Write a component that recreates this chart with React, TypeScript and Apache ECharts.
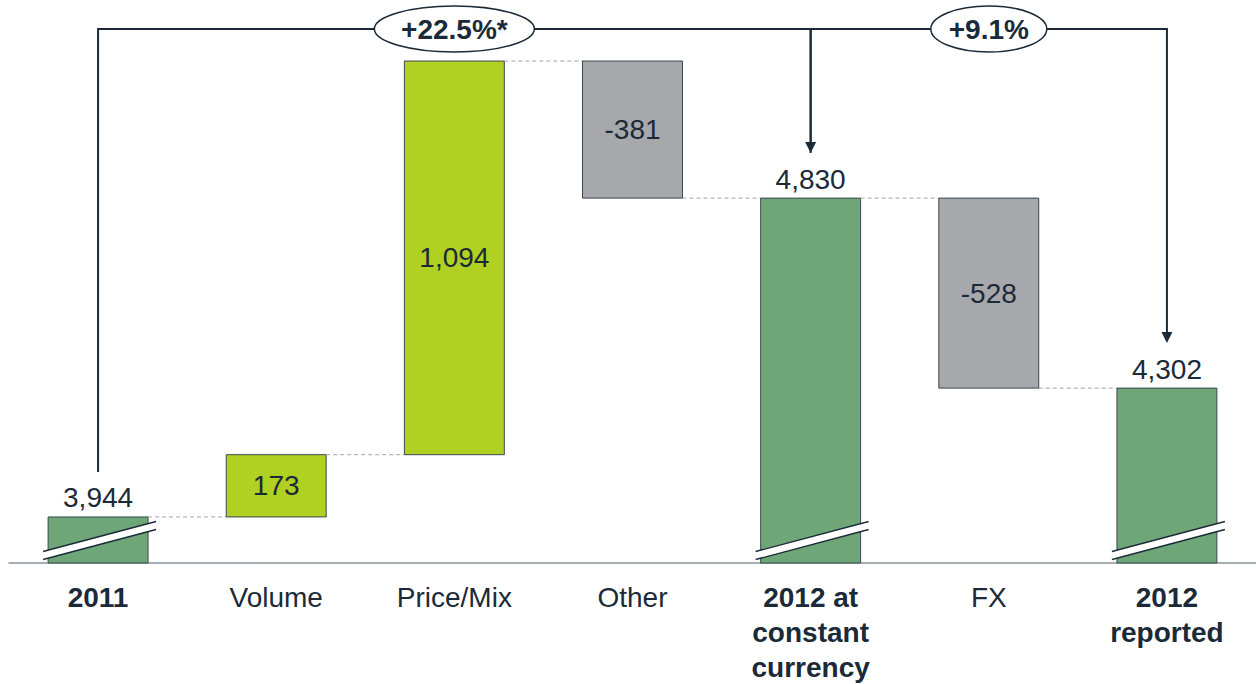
import React, { useEffect, useRef } from "react";
import * as echarts from "echarts";

const categories = ["2011", "Volume", "Price/Mix", "Other", "2012 at\nconstant\ncurrency", "FX", "2012\nreported"];
const values = [3944, 173, 1094, -381, 4830, -528, 4302];
const isTotal = [true, false, false, false, true, false, true];
const growthLabels = ["+22.5%*", "+9.1%"];
const growthFrom = [0, 4];
const growthTo = [4, 6];
const axisMin = 3816;
const axisMax = 5300;

const FONT = "'Liberation Sans', Arial, sans-serif";
const C = {
  total: "#6fa678",
  up: "#b0d022",
  down: "#a7a8ab",
  text: "#1b2a38",
  border: "#3a4750",
  connector: "#a3a3a3",
  axis: "#8a949a",
};

function fmt(v: number) {
  return v.toLocaleString("en-US");
}

export default function App() {
  const ref = useRef<HTMLDivElement>(null);
  useEffect(() => {
    if (!ref.current) return;
    const chart = echarts.init(ref.current, null, { renderer: "svg" });

    const barData: number[][] = [];
    let running = 0;
    values.forEach((v, i) => {
      let low: number, high: number;
      if (isTotal[i]) {
        low = axisMin;
        high = v;
        running = v;
      } else {
        const prev = running;
        running = prev + v;
        low = Math.min(prev, running);
        high = Math.max(prev, running);
      }
      barData.push([i, low, high, running, v, isTotal[i] ? 1 : 0]);
    });

    const bracketData = growthFrom.map((f, k) => [f, growthTo[k], values[f], values[growthTo[k]], k]);

    chart.setOption({
      animation: false,
      grid: { left: 9, top: 29, width: 1249, bottom: 121, containLabel: false },
      xAxis: {
        type: "category",
        data: categories,
        axisLine: { lineStyle: { color: C.axis, width: 1.5 } },
        axisTick: { show: false },
        axisLabel: {
          interval: 0,
          margin: 17,
          formatter: (val: string, idx: number) => {
            const tag = isTotal[idx] ? "b" : "n";
            return val.split("\n").map((s) => `{${tag}|${s}}`).join("\n");
          },
          rich: {
            b: { fontFamily: FONT, fontSize: 28, fontWeight: "bold", lineHeight: 35, color: C.text },
            n: { fontFamily: FONT, fontSize: 28, lineHeight: 35, color: C.text },
          },
        },
      },
      yAxis: { type: "value", min: axisMin, max: axisMax, show: false, splitLine: { show: false } },
      series: [
        {
          type: "custom",
          clip: false,
          data: barData,
          renderItem: (params: any, api: any) => {
            const i = api.value(0);
            const low = api.value(1);
            const high = api.value(2);
            const end = api.value(3);
            const v = api.value(4);
            const tot = api.value(5) === 1;
            const pLow = api.coord([i, low]);
            const pHigh = api.coord([i, high]);
            const bw = api.size([1, 0])[0] * 0.561;
            const x = pLow[0] - bw / 2;
            const fill = tot ? C.total : v >= 0 ? C.up : C.down;
            const children: any[] = [];
            children.push({
              type: "rect",
              shape: { x, y: pHigh[1], width: bw, height: pLow[1] - pHigh[1] },
              style: { fill, stroke: C.border, lineWidth: 1 },
            });
            if (i < values.length - 1) {
              const pe = api.coord([i, end]);
              const pn = api.coord([i + 1, end]);
              children.push({
                type: "line",
                shape: { x1: x + bw, y1: pe[1], x2: pn[0] - bw / 2, y2: pe[1] },
                style: { stroke: C.connector, lineWidth: 1, lineDash: [4, 3] },
              });
            }
            if (tot) {
              const by = pLow[1];
              const cx = pLow[0];
              const l = cx - 55;
              const r = cx + 58;
              children.push({
                type: "polygon",
                shape: { points: [[l, by - 11.5], [r, by - 41.5], [r, by - 33.5], [l, by - 3.5]] },
                style: { fill: "#ffffff", stroke: "none" },
              });
              children.push({
                type: "line",
                shape: { x1: l, y1: by - 11.5, x2: r, y2: by - 41.5 },
                style: { stroke: C.text, lineWidth: 1.3 },
              });
              children.push({
                type: "line",
                shape: { x1: l, y1: by - 3.5, x2: r, y2: by - 33.5 },
                style: { stroke: C.text, lineWidth: 1.3 },
              });
              children.push({
                type: "text",
                x: cx,
                y: pHigh[1] - 19,
                style: {
                  text: fmt(v),
                  fill: C.text,
                  fontSize: 28,
                  fontFamily: FONT,
                  align: "center",
                  verticalAlign: "middle",
                },
              });
            } else {
              children.push({
                type: "text",
                x: pLow[0],
                y: (pLow[1] + pHigh[1]) / 2,
                style: {
                  text: fmt(v),
                  fill: C.text,
                  fontSize: 28,
                  fontFamily: FONT,
                  align: "center",
                  verticalAlign: "middle",
                },
              });
            }
            return { type: "group", children };
          },
          z: 2,
        },
        {
          type: "custom",
          clip: false,
          data: bracketData,
          renderItem: (params: any, api: any) => {
            const f = api.value(0);
            const t = api.value(1);
            const vf = api.value(2);
            const vt = api.value(3);
            const k = api.value(4);
            const label = growthLabels[k];
            const lineY = api.coord([f, axisMax])[1];
            const pf = api.coord([f, vf]);
            const pt = api.coord([t, vt]);
            const yf = pf[1] - 45;
            const yt = pt[1] - 45;
            const rx = label.length * 11 + 3;
            const cx = (pf[0] + pt[0]) / 2;
            return {
              type: "group",
              children: [
                {
                  type: "polyline",
                  shape: { points: [[pf[0], yf], [pf[0], lineY], [pt[0], lineY], [pt[0], yt - 8]] },
                  style: { stroke: C.text, lineWidth: 2, fill: "none" },
                },
                {
                  type: "polygon",
                  shape: { points: [[pt[0] - 5.5, yt - 11], [pt[0] + 5.5, yt - 11], [pt[0], yt]] },
                  style: { fill: C.text, stroke: "none" },
                },
                {
                  type: "ellipse",
                  shape: { cx, cy: lineY, rx, ry: 23 },
                  style: { fill: "#ffffff", stroke: C.text, lineWidth: 1.5 },
                },
                {
                  type: "text",
                  x: cx,
                  y: lineY,
                  style: {
                    text: label,
                    fill: C.text,
                    fontSize: 28,
                    fontWeight: "bold",
                    fontFamily: FONT,
                    align: "center",
                    verticalAlign: "middle",
                  },
                },
              ],
            };
          },
          z: 3,
        },
      ],
    });
    return () => chart.dispose();
  }, []);
  return <div ref={ref} style={{ position: "absolute", left: 0, top: 0, width: 1256, height: 684 }} />;
}
